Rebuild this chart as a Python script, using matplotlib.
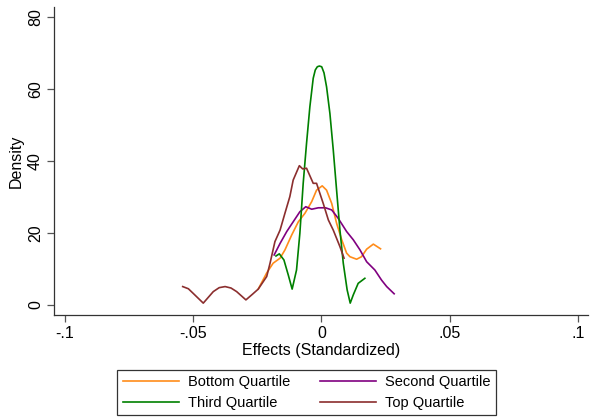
import matplotlib
matplotlib.use("Agg")
import matplotlib.pyplot as plt

plt.rcParams['font.family'] = ['Liberation Sans', 'DejaVu Sans']

# Data (x: effect, y: density)
bottom_x = [-0.0246, -0.0213, -0.0188, -0.0161, -0.0142, -0.0116, -0.009, -0.0064, -0.0038, -0.0019,
            0.0003, 0.002, 0.004, 0.0059, 0.0079, 0.0098, 0.0111, 0.0137, 0.0156, 0.0176, 0.0202, 0.023]
bottom_y = [4.4, 8.9, 11.6, 13.0, 15.3, 19.4, 23.1, 25.5, 28.7, 31.9,
            33.1, 31.9, 28.2, 22.7, 18.1, 14.4, 13.4, 12.7, 13.4, 15.5, 16.9, 15.6]

second_x = [-0.0184, -0.0161, -0.0135, -0.011, -0.0084, -0.0061, -0.0038, -0.0012, 0.0016, 0.004,
            0.0065, 0.0098, 0.0124, 0.015, 0.0176, 0.0208, 0.0234, 0.0254, 0.0283]
second_y = [13.9, 17.1, 20.4, 23.1, 25.9, 27.3, 26.6, 27.0, 27.0, 26.4,
            24.1, 20.4, 18.1, 15.3, 12.0, 9.7, 6.9, 5.1, 3.1]

third_x = [-0.0177, -0.0164, -0.0146, -0.0129, -0.0114, -0.0097, -0.0084, -0.0071, -0.0058, -0.0045,
           -0.0032, -0.0024, -0.0016, -0.0008, 0.0001, 0.001, 0.002, 0.0033, 0.0046, 0.0059, 0.0072,
           0.0085, 0.01, 0.0112, 0.0124, 0.0143, 0.0169]
third_y = [13.6, 14.2, 12.5, 8.3, 4.4, 9.7, 19.9, 33.8, 44.9, 55.1,
           63.0, 65.3, 66.2, 66.4, 66.2, 64.5, 60.6, 53.2, 43.1, 31.9, 20.8,
           11.6, 4.2, 0.5, 2.8, 6.0, 7.4]

top_x = [-0.054, -0.0518, -0.0499, -0.046, -0.0421, -0.0398, -0.0375, -0.0352, -0.033, -0.0294,
         -0.0268, -0.0246, -0.0213, -0.020, -0.0181, -0.0161, -0.0142, -0.0123, -0.011, -0.0086,
         -0.0073, -0.0058, -0.0032, -0.0019, 0.0007, 0.0027, 0.0046, 0.0072, 0.0088]
top_y = [5.1, 4.5, 3.2, 0.5, 3.7, 4.8, 5.1, 4.7, 3.7, 1.4,
         3.0, 4.4, 7.9, 11.6, 17.6, 20.8, 25.5, 30.1, 34.7, 38.7,
         37.8, 38.0, 33.8, 33.8, 28.2, 23.6, 20.8, 16.2, 13.0]

labels = ["Bottom Quartile", "Second Quartile", "Third Quartile", "Top Quartile"]
colors = ["#FF8C1A", "#800080", "#008000", "#8B2E2E"]

xticks = [-0.1, -0.05, 0, 0.05, 0.1]
xticklabels = ["-.1", "-.05", "0", ".05", ".1"]
yticks = [0, 20, 40, 60, 80]

fig = plt.figure(figsize=(5.92, 4.17), dpi=100)
ax = fig.add_axes([0.0912, 0.2446, 0.9018, 0.7394])

series = [(bottom_x, bottom_y), (second_x, second_y), (third_x, third_y), (top_x, top_y)]
handles = []
for (xs, ys), lab, c in zip(series, labels, colors):
    h, = ax.plot(xs, ys, color=c, lw=1.2, label=lab, solid_joinstyle='round')
    handles.append(h)

ax.set_xlim(-0.1041, 0.1037)
ax.set_ylim(-2.8, 82.9)
ax.set_xticks(xticks)
ax.set_xticklabels(xticklabels)
ax.set_yticks(yticks)
ax.set_yticklabels([str(v) for v in yticks], rotation=90, va='center')
for s in ['top', 'right']:
    ax.spines[s].set_visible(False)
for s in ['left', 'bottom']:
    ax.spines[s].set_color('#333333')
    ax.spines[s].set_linewidth(0.9)
ax.tick_params(direction='out', length=5, width=0.9, color='#555555', labelsize=11.5, pad=3)
ax.set_xlabel("Effects (Standardized)", fontsize=11.5, labelpad=1)
ax.set_ylabel("Density", fontsize=11.5, labelpad=3)

# row-major legend order: Bottom, Second / Third, Top
order = [0, 2, 1, 3]
leg = fig.legend([handles[i] for i in order], [labels[i] for i in order],
                 loc='lower center', bbox_to_anchor=(0.518, 0.005), ncol=2,
                 fontsize=10.5, frameon=True, fancybox=False, edgecolor='black',
                 handlelength=3.9, columnspacing=2.0, borderpad=0.35, labelspacing=0.45,
                 handletextpad=0.6, borderaxespad=0.0)
leg.get_frame().set_linewidth(0.9)

fig.savefig("out.png", dpi=100)
